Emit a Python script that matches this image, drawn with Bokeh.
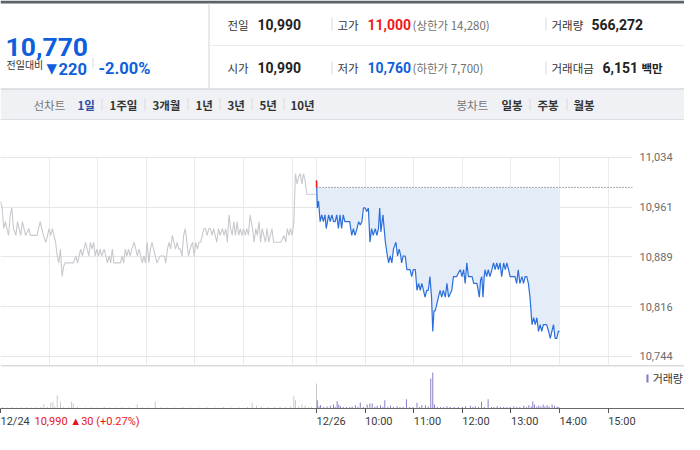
from bokeh.plotting import figure
from bokeh.models import (Range1d, Label, BoxAnnotation, Span, FixedTicker,
                          NumeralTickFormatter, Legend, LegendItem)
from bokeh.layouts import column
from bokeh.embed import file_html
from bokeh.resources import INLINE

# ---------------- data ----------------
prev_close = 10990
session_end = 780          # minutes since 12/24 09:00 (12/26 15:30)
day2_open = 390            # 12/26 09:00

price_ticks = [10744, 10816, 10889, 10961, 11034]
time_ticks = [0, 390, 450, 510, 570, 630, 690, 750]
time_labels = ["12/24", "12/26", "10:00", "11:00", "12:00", "13:00", "14:00", "15:00"]
grid_minutes = [60, 120, 180, 240, 300, 360, 390, 450, 510, 570, 630, 690, 750]

# 12/24 (previous session) minute prices
gray_t = [0, 2, 4, 6, 8, 10, 12, 14, 16, 19, 21, 23, 25, 27, 29, 31, 35, 37, 41, 45,
          49, 51, 53, 56, 58, 60, 62, 64, 66, 68, 70, 72, 74, 76, 78, 80, 82, 86, 90, 93,
          95, 97, 99, 101, 103, 105, 107, 109, 111, 113, 115, 117, 119, 121, 123, 125, 128, 130, 132, 134,
          136, 138, 140, 144, 148, 150, 152, 154, 156, 158, 160, 162, 165, 167, 169, 171, 173, 175, 177, 179,
          181, 183, 185, 187, 189, 191, 193, 197, 202, 204, 206, 208, 210, 212, 214, 216, 218, 220, 222, 224,
          226, 228, 230, 232, 234, 237, 239, 241, 243, 245, 247, 249, 251, 253, 255, 257, 259, 261, 263, 265,
          267, 269, 271, 274, 276, 278, 280, 282, 284, 286, 288, 290, 292, 294, 296, 298, 300, 302, 304, 306,
          308, 311, 313, 315, 317, 319, 321, 323, 325, 327, 329, 331, 333, 335, 337, 341, 346, 350, 352, 354,
          356, 358, 360, 362, 364, 366, 368, 370, 372, 374, 376, 378, 383, 387, 389]
gray_p = [10970, 10960, 10930, 10940, 10930, 10920, 10950, 10960, 10930, 10920, 10940, 10930, 10920, 10940, 10930, 10920, 10930, 10920, 10920, 10920,
          10940, 10930, 10920, 10910, 10920, 10930, 10920, 10930, 10920, 10910, 10890, 10880, 10900, 10860, 10875, 10880, 10880, 10880, 10880, 10890,
          10880, 10890, 10900, 10890, 10900, 10910, 10900, 10890, 10910, 10900, 10910, 10890, 10900, 10890, 10900, 10890, 10900, 10890, 10880, 10890,
          10880, 10900, 10880, 10880, 10880, 10890, 10880, 10900, 10890, 10900, 10890, 10900, 10910, 10900, 10890, 10900, 10890, 10880, 10890, 10880,
          10910, 10880, 10900, 10910, 10900, 10890, 10880, 10890, 10890, 10880, 10900, 10910, 10900, 10920, 10910, 10900, 10910, 10900, 10900, 10890,
          10920, 10930, 10910, 10890, 10900, 10910, 10890, 10910, 10900, 10910, 10910, 10920, 10930, 10930, 10920, 10930, 10930, 10920, 10930, 10920,
          10910, 10930, 10920, 10930, 10920, 10930, 10910, 10950, 10930, 10920, 10940, 10920, 10940, 10920, 10930, 10920, 10930, 10920, 10930, 10920,
          10950, 10930, 10910, 10930, 10920, 10940, 10910, 10930, 10920, 10910, 10930, 10910, 10920, 10930, 10910, 10910, 10910, 10920, 10910, 10930,
          10920, 10930, 10920, 10940, 11010, 10995, 11005, 11010, 10995, 11010, 11000, 10980, 10980, 10980, 10980]

# 12/26 (current session) minute prices
blue_t = [390, 391, 392.5, 394.5, 396.5, 398.5, 400.5, 402, 405, 407, 409, 411, 413, 415, 417, 419, 421, 423, 425, 429,
          431, 433.5, 435.5, 437.5, 440, 442, 444, 446, 448, 450, 452, 454, 456, 458, 460, 462.5, 464.5, 466.5, 468, 469.5,
          472, 475, 477.5, 479, 481, 483, 485, 488, 490, 492, 494, 495, 497, 499.5, 501.5, 505.5, 507.5, 509.5, 512, 514,
          516, 518, 520, 522, 524, 526, 528, 530, 532, 533.5, 535, 536.5, 538.5, 540.5, 542.5, 544.5, 546.5, 549, 551, 553,
          555, 557, 559, 561, 563, 565, 567.5, 569.5, 571.5, 573.5, 575.5, 577.5, 580, 582, 584, 588, 591, 592.5, 594, 595.5,
          597, 598, 600, 602, 604, 606.5, 608.5, 610.5, 612.5, 614.5, 616.5, 618.5, 621, 623, 625, 627, 629, 633, 635, 637,
          639, 641, 643.5, 645.5, 647.5, 649.5, 651.5, 653.5, 656, 658, 660, 662, 664, 666, 668, 670, 674, 676.5, 678.5, 680.5,
          682.5, 684.5, 686.5, 688.5, 690]
blue_p = [11000, 10960, 10970, 10940, 10950, 10940, 10950, 10930, 10950, 10940, 10950, 10940, 10940, 10950, 10930, 10950, 10930, 10950, 10940, 10940,
          10940, 10920, 10930, 10920, 10930, 10940, 10935, 10940, 10960, 10960, 10955, 10960, 10910, 10930, 10920, 10930, 10920, 10930, 10960, 10925,
          10950, 10910, 10890, 10880, 10890, 10880, 10900, 10910, 10890, 10900, 10890, 10880, 10890, 10890, 10870, 10870, 10860, 10870, 10870, 10840,
          10850, 10840, 10850, 10840, 10830, 10840, 10840, 10860, 10830, 10780, 10810, 10810, 10820, 10830, 10840, 10830, 10840, 10830, 10850, 10830,
          10835, 10840, 10860, 10860, 10860, 10865, 10870, 10860, 10870, 10850, 10880, 10860, 10860, 10860, 10850, 10850, 10830, 10855, 10860, 10830,
          10860, 10870, 10860, 10870, 10860, 10870, 10880, 10870, 10880, 10870, 10880, 10860, 10880, 10870, 10880, 10870, 10860, 10860, 10860, 10850,
          10870, 10850, 10860, 10850, 10860, 10860, 10850, 10830, 10790, 10800, 10790, 10800, 10780, 10790, 10780, 10790, 10790, 10780, 10770, 10780,
          10790, 10770, 10770, 10780, 10780]

# volume (shares) per minute
vol_gray_t = [2, 8, 14, 20, 26, 32, 38, 44, 50, 53.5, 58, 62, 64.6, 67, 70, 74, 78, 84, 87.6, 89.7,
              95, 105, 112, 120, 128, 135, 142, 150, 158, 168.7, 175, 182, 191, 198, 205, 215, 225, 235, 245, 255,
              265, 275, 285, 295, 305, 310.6, 316, 322, 330, 338, 345, 352, 358, 362, 364, 368, 372, 376, 380, 384, 390]
vol_gray_v = [1500, 1000, 1500, 1000, 1000, 1500, 1000, 1200, 1500, 4300, 1500, 5700, 6700, 2000, 13300, 6700, 1500, 1200, 6700, 5000,
              1500, 1000, 1200, 1000, 1500, 1000, 1000, 1200, 1000, 4300, 1200, 1000, 6700, 1200, 1000, 1000, 1500, 1000, 1000, 1200,
              1000, 1500, 1000, 1000, 1500, 5700, 3000, 2000, 1500, 1500, 2000, 1500, 2000, 12300, 8300, 2000, 4000, 3300, 1500, 1500, 25000]
vol_cur_t = [391, 393, 395, 399, 403, 407, 411, 413, 415.5, 417.5, 419.6, 423, 427, 431, 434, 438, 441, 444, 448, 452.5,
             455.8, 458.7, 462, 464.9, 469, 472, 474.3, 478, 481.3, 485, 489.5, 493, 497, 501, 505, 509, 514, 517, 520, 524.5,
             528, 531, 533.5, 535.6, 539, 543, 547, 551, 555, 560, 565, 570, 574, 580, 583, 586, 590, 593.6, 597, 601.8,
             606, 609, 613, 617, 621, 625, 629, 633.5, 637, 641, 645.8, 649, 652, 655, 657, 659, 662, 664.4, 667, 669.7,
             672, 674.6, 677, 680.8, 683.7, 687, 689]
vol_cur_v = [8300, 2000, 3300, 1500, 2000, 2700, 4000, 1500, 7300, 4000, 2300, 1500, 1500, 1500, 2000, 3300, 1500, 6000, 1500, 4000,
             5000, 5000, 1500, 2700, 3300, 1500, 8300, 1500, 2700, 1500, 2300, 1500, 1500, 9300, 1500, 1500, 5700, 1500, 3300, 3300,
             2000, 30000, 36000, 4000, 1500, 1500, 1500, 2300, 1500, 1500, 1500, 1500, 2300, 2700, 1500, 2300, 1500, 6700, 1500, 9300,
             1500, 1500, 2300, 1500, 1500, 1500, 1500, 2300, 1500, 1500, 2700, 1500, 3300, 2000, 7300, 4000, 2000, 2700, 2000, 4000,
             2000, 3300, 2000, 4000, 2700, 1700, 1500]
vol_max = 43000

# ---------------- styles ----------------
KR = "Noto Sans CJK KR"
NUM = "Roboto"
BLUE = "#0f5fdc"
RED = "#f01818"
W = 684
PLOT_W = 632
FULL_X = session_end * W / PLOT_W


def bare(fig):
    fig.xaxis.visible = False
    fig.yaxis.visible = False
    fig.xgrid.visible = False
    fig.ygrid.visible = False
    fig.outline_line_color = None


def T(fig, x, y, s, size, color="#333333", bold=False, font=KR, baseline="middle", align="left"):
    fig.add_layout(Label(x=x, y=y, text=s, text_font=font, text_font_size=f"{size}px",
                         text_color=color, text_font_style="bold" if bold else "normal",
                         text_baseline=baseline, text_align=align))


def B(fig, l, r, t, b, color):
    fig.add_layout(BoxAnnotation(left=l, right=r, top=t, bottom=b, fill_color=color,
                                 fill_alpha=1, line_color=None, level="underlay"))


# ---------------- header ----------------
hd = figure(width=W, height=120, x_range=Range1d(0, W), y_range=Range1d(120, 0),
            output_backend="svg", toolbar_location=None, min_border=0, frame_align=False)
bare(hd)
B(hd, 0, W, 0, 3, "#5d6168")
B(hd, 208, 209, 3, 88, "#d3d5d9")
B(hd, 209, W, 44.5, 45.5, "#ebebeb")
B(hd, 0, W, 88, 120, "#eff1f5")
B(hd, 0, W, 88, 89, "#c9ccd1")
B(hd, 0, W, 119, 120, "#c9ccd1")
for sx, y0, y1 in [(92, 57, 68), (331, 17, 30), (545, 17, 30), (331, 61, 74), (545, 61, 74),
                   (101, 98, 110), (144, 98, 110), (187, 98, 110), (219, 98, 110), (251, 98, 110),
                   (283, 98, 110), (529, 98, 110), (566, 98, 110)]:
    B(hd, sx, sx + 1, y0, y1, "#d8dadd")

T(hd, 5, 46, "10,770", 26.5, BLUE, True, NUM, baseline="alphabetic")
T(hd, 6, 63.5, "전일대비", 10, "#333333")
T(hd, 46, 67, "▼", 13.5, BLUE, font="DejaVu Sans", baseline="alphabetic")
T(hd, 58, 68, "220", 16.5, BLUE, True, NUM, baseline="alphabetic")
T(hd, 98, 68, "-2.00%", 16.5, BLUE, True, NUM, baseline="alphabetic")

T(hd, 227, 24, "전일", 11.5)
T(hd, 257, 24, "10,990", 14, "#222222", True, NUM)
T(hd, 337, 24, "고가", 11.5)
T(hd, 367, 24, "11,000", 14, RED, True, NUM)
T(hd, 412, 24, "(상한가 14,280)", 11.5, "#707070")
T(hd, 551, 24, "거래량", 11.5)
T(hd, 591, 24, "566,272", 14, "#222222", True, NUM)

T(hd, 227, 67, "시가", 11.5)
T(hd, 257, 67, "10,990", 14, "#222222", True, NUM)
T(hd, 337, 67, "저가", 11.5)
T(hd, 367, 67, "10,760", 14, BLUE, True, NUM)
T(hd, 412, 67, "(하한가 7,700)", 11.5, "#707070")
T(hd, 551, 67, "거래대금", 11.5)
T(hd, 602, 67, "6,151", 14, "#222222", True, NUM)
T(hd, 641, 67, "백만", 11.5, "#222222", True)

T(hd, 33, 104, "선차트", 11.5, "#777777")
T(hd, 77, 104, "1일", 11.5, "#2d4ca6", True)
for x, s in [(109, "1주일"), (152, "3개월"), (195, "1년"), (227, "3년"), (259, "5년"), (290, "10년")]:
    T(hd, x, 104, s, 11.5, "#333333", True)
T(hd, 456, 104, "봉차트", 11.5, "#777777")
for x, s in [(501, "일봉"), (537, "주봉"), (573, "월봉")]:
    T(hd, x, 104, s, 11.5, "#333333", True)

# ---------------- price chart ----------------
pf = figure(width=W, height=245, x_range=Range1d(0, session_end), y_range=Range1d(10730.4, 11035),
            output_backend="svg", toolbar_location=None, x_axis_location=None, y_axis_location="right",
            min_border_left=0, min_border_right=W - PLOT_W, min_border_top=36, min_border_bottom=0,
            frame_align=False)
pf.outline_line_color = None
pf.xgrid.ticker = FixedTicker(ticks=grid_minutes)
pf.xgrid.grid_line_color = "#ebebeb"
pf.ygrid.ticker = FixedTicker(ticks=price_ticks)
pf.ygrid.grid_line_color = "#e6e6e6"
ya = pf.yaxis[0]
ya.ticker = FixedTicker(ticks=price_ticks)
ya.formatter = NumeralTickFormatter(format="0,0")
ya.axis_line_color = None
ya.major_tick_line_color = None
ya.minor_tick_line_color = None
ya.major_tick_out = 0
ya.major_label_standoff = 7
ya.major_label_text_font = NUM
ya.major_label_text_font_size = "11px"
ya.major_label_text_color = "#6b6b6b"

pf.varea(x=blue_t, y1=blue_p, y2=[prev_close] * len(blue_t), fill_color="#e4ecf8")
pf.segment(x0=[day2_open], y0=[prev_close], x1=[session_end], y1=[prev_close],
           line_color="#555555", line_width=1, line_dash="1 2")
pf.line(gray_t, gray_p, line_color="#c8c9ce", line_width=1.1)
pf.line(blue_t, blue_p, line_color="#2b6fdc", line_width=1.2)
pf.segment(x0=[blue_t[0]], y0=[blue_p[0]], x1=[blue_t[0]], y1=[prev_close], line_color="#ff1a1a", line_width=1.5)

# ---------------- volume chart ----------------
vf = figure(width=W, height=48, x_range=Range1d(0, FULL_X), y_range=Range1d(0, vol_max),
            output_backend="svg", toolbar_location=None, y_axis_location=None,
            min_border_left=0, min_border_right=0, min_border_top=0, min_border_bottom=5,
            frame_align=False)
vf.outline_line_color = None
vf.xgrid.visible = False
vf.ygrid.visible = False
xa = vf.xaxis[0]
xa.ticker = FixedTicker(ticks=time_ticks)
xa.major_label_overrides = {t: "" for t in time_ticks}
xa.major_label_text_font_size = "0px"
xa.major_label_standoff = 0
xa.axis_line_color = "#6a6a6a"
xa.major_tick_line_color = "#555555"
xa.major_tick_in = 0
xa.major_tick_out = 5
xa.minor_tick_line_color = None
vf.add_layout(Span(location=vol_max, dimension="width", line_color="#b8b8b8", line_width=1.5))

vf.vbar(x=vol_gray_t, top=vol_gray_v, width=1.2, fill_color="#c8c8c8", line_color=None)
vr = vf.vbar(x=vol_cur_t, top=vol_cur_v, width=1.2, fill_color="#8a7bc6", line_color=None)
leg = Legend(items=[LegendItem(label="거래량", renderers=[vr])], location="top_right", margin=1,
             padding=0, spacing=0, glyph_width=3, glyph_height=10, label_height=24, label_standoff=4,
             label_text_font=KR, label_text_font_size="11px", label_text_color="#333333",
             background_fill_alpha=0, border_line_color=None)
vf.add_layout(leg)

# ---------------- time labels strip ----------------
st = figure(width=W, height=21, x_range=Range1d(0, FULL_X), y_range=Range1d(21, 0),
            output_backend="svg", toolbar_location=None, min_border=0, frame_align=False)
bare(st)
for t, s in zip(time_ticks, time_labels):
    st.add_layout(Label(x=t, y=8, text=s, text_font=NUM, text_font_size="11px",
                        text_color="#3c3c3c", text_baseline="middle", text_align="left"))
st.add_layout(Label(x=time_ticks[0], y=8, x_offset=34, text="10,990 ▲30 (+0.27%)", text_font=NUM,
                    text_font_size="11px", text_color="#e8141c", text_baseline="middle", text_align="left"))

p = column(hd, pf, vf, st, spacing=0)
open("out.html", "w").write(file_html(p, INLINE))
